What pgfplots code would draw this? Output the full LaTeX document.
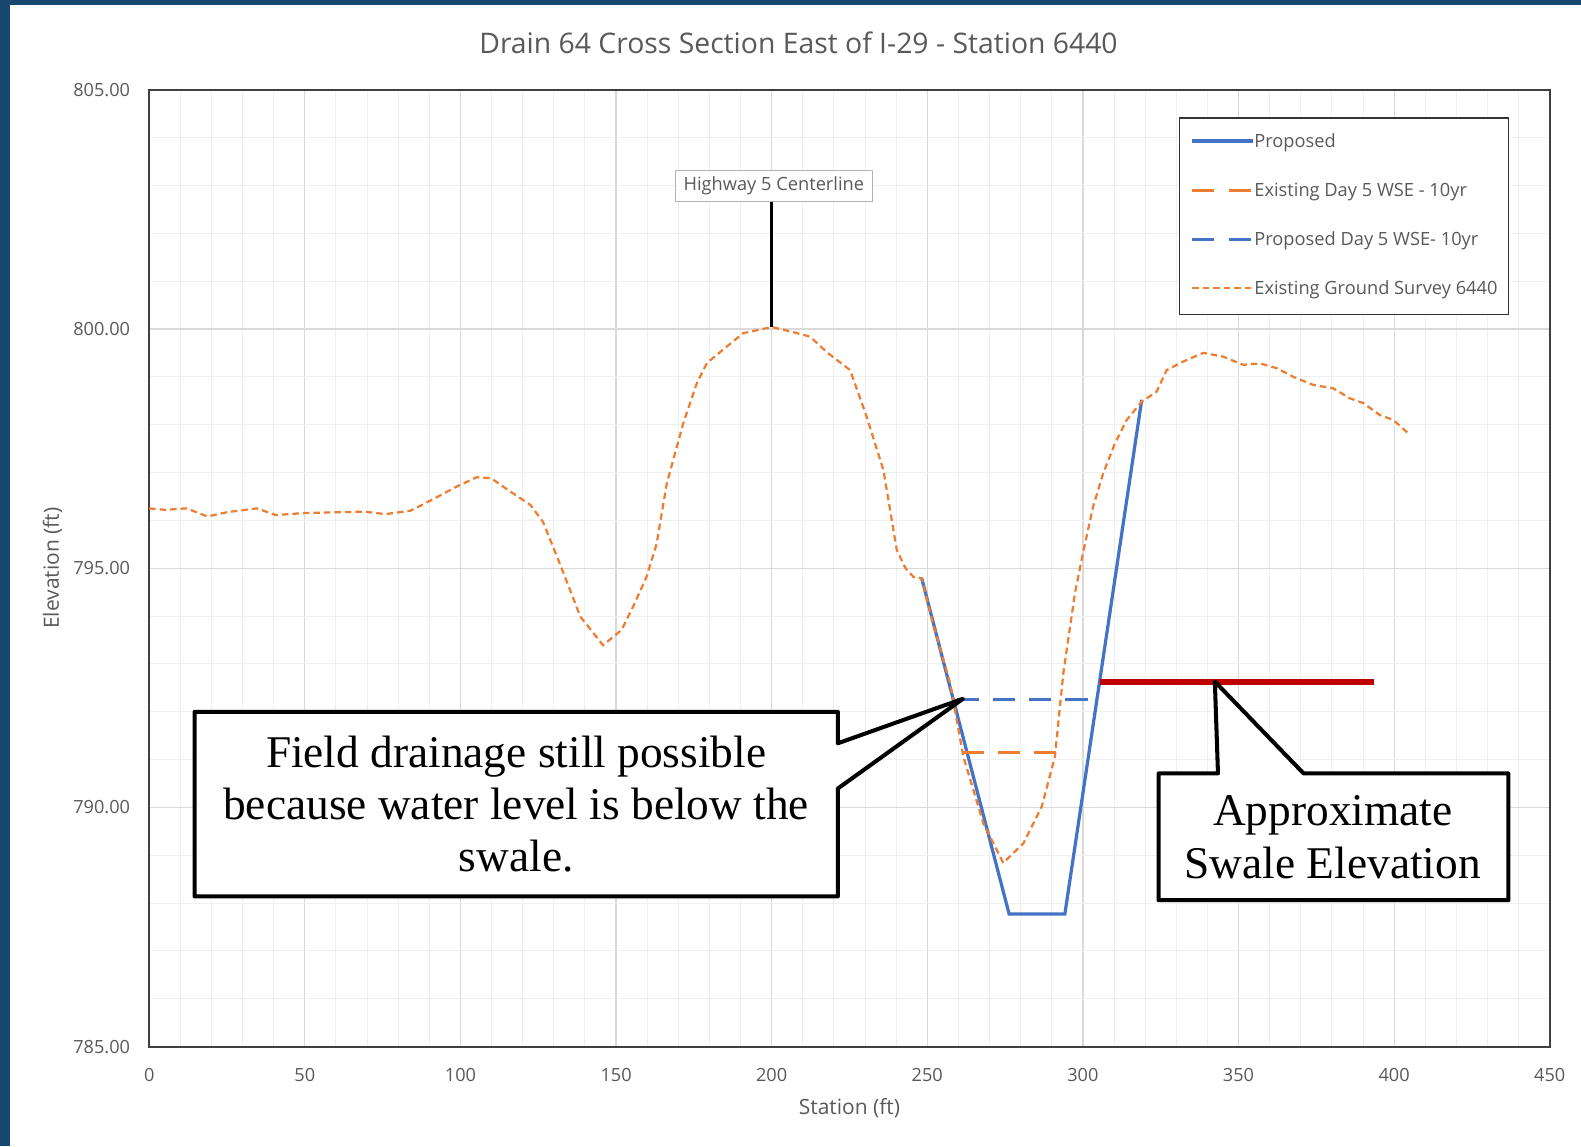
\documentclass[border=0pt]{standalone}
\usepackage{fontspec}
\setmainfont{Open Sans}
\newfontfamily\callfont{Liberation Serif}
\usepackage{pgfplots}
\pgfplotsset{compat=1.18}

\definecolor{slide}{RGB}{22,72,112}
\definecolor{txtgray}{RGB}{89,89,89}
\definecolor{xlblue}{RGB}{68,114,196}
\definecolor{xlorange}{RGB}{237,125,49}
\definecolor{xlred}{RGB}{192,0,0}
\definecolor{gridmaj}{RGB}{217,217,217}
\definecolor{gridmin}{RGB}{240,240,240}

\begin{document}
\begin{tikzpicture}
% slide background
\fill[slide] (-74pt,-49.5pt) rectangle (710pt,519pt);
\fill[white] (-69pt,-49.5pt) rectangle (710pt,516.5pt);

\begin{axis}[
  scale only axis, width=694.5pt, height=474.5pt,
  xmin=0, xmax=450, ymin=785, ymax=805,
  xtick={0,50,...,450}, ytick={785,790,...,805},
  minor x tick num=4, minor y tick num=4,
  grid=both,
  major grid style={gridmaj, line width=0.6pt},
  minor grid style={gridmin, line width=0.5pt},
  major tick length=0pt, minor tick length=0pt,
  axis line style={black!75, line width=0.9pt},
  /pgf/number format/assume math mode=true,
  tick label style={font=\fontsize{9}{11}\selectfont, text=txtgray},
  yticklabel style={/pgf/number format/fixed, /pgf/number format/fixed zerofill,
    /pgf/number format/precision=2, xshift=-6pt},
  xticklabel style={yshift=-7pt},
  title={Drain 64 Cross Section East of I-29 - Station 6440},
  title style={at={(axis description cs:0.4636,1.0369)}, anchor=center,
    font=\fontsize{14.05}{16}\selectfont, text=txtgray},
  xlabel={Station (ft)},
  xlabel style={at={(axis description cs:0.5,-0.0643)}, anchor=center,
    font=\fontsize{10.4}{12}\selectfont, text=txtgray},
  ylabel={Elevation (ft)},
  ylabel style={at={(axis description cs:-0.0691,0.5)}, anchor=center,
    font=\fontsize{10.4}{12}\selectfont, text=txtgray},
  legend cell align=left,
  legend image code/.code={\draw[#1] (0pt,0.8pt) -- (30pt,0.8pt);},
  legend style={at={(axis description cs:0.9712,0.9715)}, anchor=north east,
    draw=black!80, line width=0.8pt, fill=white,
    font=\fontsize{9.05}{11}\selectfont, text=txtgray,
    inner xsep=5.5pt, inner ysep=7.8pt, row sep=15.3pt,
    nodes={inner sep=0pt, text height=7pt, text depth=2pt, line width=0.8pt}},
  /tikz/every even column/.append style={column sep=2.5pt},
]

\addplot[xlblue, line width=1.6pt] coordinates {
  (248.2,794.79) (276.3,787.77) (294.2,787.77) (318.9,798.52)
};
\addplot[xlorange, line width=1.5pt, dash pattern=on 11pt off 7pt] coordinates {
  (261.0,791.15) (291.6,791.15)
};
\addplot[xlblue, line width=1.5pt, dash pattern=on 11pt off 7pt] coordinates {
  (259.4,792.25) (304.4,792.25)
};
\addplot[xlorange, line width=1.1pt, dash pattern=on 3.2pt off 2pt] coordinates {
  (0,796.25) (5,796.22) (12,796.25) (18.7,796.08) (25,796.17) (34.6,796.25)
  (40.6,796.11) (49.3,796.15) (60,796.17) (69.3,796.18) (75.9,796.13)
  (83.9,796.2) (90.6,796.42) (98.6,796.7) (105.2,796.9) (109.9,796.88)
  (114.5,796.67) (122.5,796.32) (126.5,795.97) (131.9,795.1) (138.5,793.99)
  (145.8,793.39) (151.8,793.71) (155.5,794.2) (159.8,794.82) (163,795.5)
  (166.3,796.77) (171.6,798.03) (175.9,798.86) (179.2,799.29) (185,799.6)
  (190.8,799.91) (200,800.04) (206,799.95) (212.3,799.84) (218,799.5)
  (225.2,799.14) (230.5,798.17) (235.9,797.05) (240.2,795.38) (243,795.0)
  (245.5,794.82) (248.2,794.79) (252,793.8) (257.3,792.6) (261.6,791.06)
  (268,789.67) (274.4,788.84) (280.9,789.25) (286.8,790.02) (291,791.06)
  (293.7,792.8) (297.5,794.5) (300.3,795.4) (303.3,796.29) (306.5,796.98)
  (310.3,797.61) (314.1,798.1) (318.9,798.48) (323.7,798.69) (326.9,799.14)
  (332.3,799.32) (338.7,799.5) (345.1,799.42) (351.5,799.25) (356.9,799.28)
  (362.3,799.18) (367.6,799.0) (374,798.83) (380.4,798.76) (385.8,798.55)
  (390.1,798.45) (395.4,798.2) (399.7,798.1) (404.5,797.82)
};
% approximate swale elevation
\addplot[xlred, line width=3pt, forget plot] coordinates {
  (305.5,792.63) (393.6,792.63)
};
\legend{Proposed, Existing Day 5 WSE - 10yr, Proposed Day 5 WSE- 10yr, Existing Ground Survey 6440}

% highway centerline marker
\draw[black, line width=1.5pt] (axis cs:200,800.04) -- (axis cs:200,802.66);
\node[draw=black!30, fill=white, text=txtgray, font=\fontsize{9.05}{11}\selectfont,
  minimum width=97.5pt, minimum height=15.5pt, inner sep=0pt]
  at (axis cs:200.7,802.99) {Highway 5 Centerline};

% callouts
\filldraw[fill=white, draw=black, line width=2pt, line join=round]
  (axis cs:14.58,791.997) -- (axis cs:221.27,791.997) -- (axis cs:221.27,791.34)
  -- (axis cs:261.45,792.27) -- (axis cs:221.27,790.395) -- (axis cs:221.27,788.14)
  -- (axis cs:14.58,788.14) -- cycle;
\node[font=\callfont\fontsize{22.5}{26}\selectfont, align=center]
  at (axis cs:117.9,790.07) {Field drainage still possible\\because water level is below the\\swale.};

\filldraw[fill=white, draw=black, line width=2pt, line join=round]
  (axis cs:324.3,790.71) -- (axis cs:343.4,790.71) -- (axis cs:342.4,792.63)
  -- (axis cs:370.9,790.71) -- (axis cs:436.7,790.71) -- (axis cs:436.7,788.06)
  -- (axis cs:324.3,788.06) -- cycle;
\node[font=\callfont\fontsize{22.5}{26}\selectfont, align=center]
  at (axis cs:380.3,789.38) {Approximate\\Swale Elevation};
\end{axis}
\pgfresetboundingbox
\path[use as bounding box] (-74pt,-49.5pt) rectangle (710pt,519pt);
\end{tikzpicture}
\end{document}
